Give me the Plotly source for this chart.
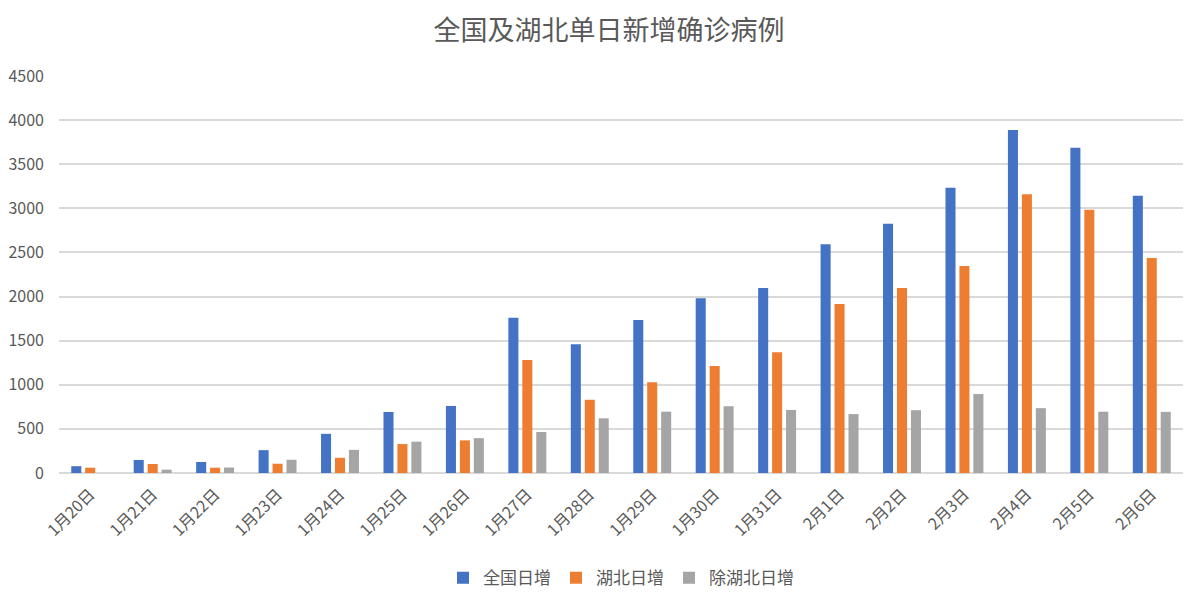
import plotly.graph_objects as go

# 日期与三组单日新增
dates = ['1月20日', '1月21日', '1月22日', '1月23日', '1月24日', '1月25日',
         '1月26日', '1月27日', '1月28日', '1月29日', '1月30日', '1月31日',
         '2月1日', '2月2日', '2月3日', '2月4日', '2月5日', '2月6日']
national = [77, 148, 125, 259, 444, 692, 760, 1760, 1460, 1735, 1982, 2098,
            2594, 2825, 3233, 3888, 3688, 3142]
hubei = [60, 102, 60, 105, 172, 328, 370, 1282, 830, 1030, 1212, 1370,
         1915, 2098, 2347, 3160, 2985, 2438]
non_hubei = [0, 38, 62, 150, 262, 355, 395, 465, 620, 695, 757, 715,
             668, 712, 895, 735, 695, 693]

series = [
    ('全国日增', national, '#4472C4'),
    ('湖北日增', hubei, '#ED7D31'),
    ('除湖北日增', non_hubei, '#A5A5A5'),
]

font_family = 'Noto Sans CJK SC, Noto Sans, sans-serif'
text_color = '#595959'

fig = go.Figure()
for name, vals, color in series:
    fig.add_trace(go.Bar(x=dates, y=vals, name=name, marker_color=color,
                         marker_line_width=0))

# page body keeps its default 8px margin, so margins are set 8px tighter
fig.update_layout(
    width=1202, height=604,
    title=dict(text='全国及湖北单日新增确诊病例', x=0.5, xanchor='center',
               y=0.962, yanchor='middle',
               font=dict(size=27, color=text_color, family=font_family)),
    barmode='group',
    bargap=0.33,
    bargroupgap=0.28,
    plot_bgcolor='white',
    paper_bgcolor='white',
    margin=dict(l=51, r=27, t=68, b=139),
    font=dict(family=font_family, color=text_color, size=15),
    legend=dict(orientation='h', x=0.5, xanchor='center', y=-0.265,
                yanchor='middle', font=dict(size=17, color=text_color),
                itemwidth=30, traceorder='normal'),
)
fig.update_xaxes(tickangle=-45, tickfont=dict(size=16, color=text_color),
                 showgrid=False, showline=False, ticks='', automargin=False,
                 ticklabelstandoff=8)
fig.update_yaxes(range=[0, 4500], dtick=500, showgrid=True,
                 gridcolor='#D9D9D9', gridwidth=1.5, zeroline=True,
                 zerolinecolor='#D9D9D9', zerolinewidth=1.5,
                 tickfont=dict(size=16, color=text_color), ticks='',
                 ticklabelstandoff=14, automargin=False)

fig.write_html("out.html")
